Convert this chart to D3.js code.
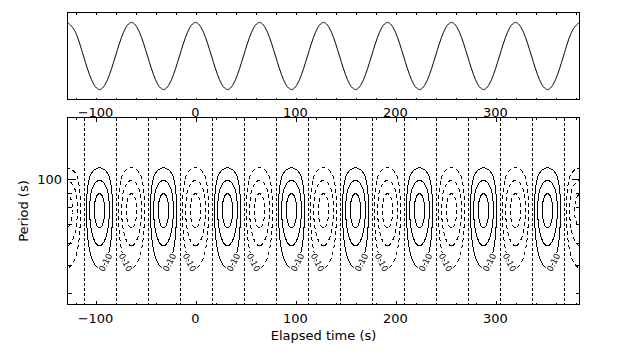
<!DOCTYPE html>
<html><head><meta charset="utf-8">
<script src="https://cdn.jsdelivr.net/npm/d3@7"></script>
<style>
html,body{margin:0;padding:0;background:#fff;}
svg{display:block;font-family:"DejaVu Sans",sans-serif;}
</style></head><body>
<svg id="chart" width="634" height="360"></svg>
<script>
// ---------------- data ----------------
const timeRange = [-128, 384];
const signalStart = -128;
const signalStep = 8;
const signalValues = [
  1, 0.707, 0, -0.707, -1, -0.707, 0, 0.707,
  1, 0.707, 0, -0.707, -1, -0.707, 0, 0.707,
  1, 0.707, 0, -0.707, -1, -0.707, 0, 0.707,
  1, 0.707, 0, -0.707, -1, -0.707, 0, 0.707,
  1, 0.707, 0, -0.707, -1, -0.707, 0, 0.707,
  1, 0.707, 0, -0.707, -1, -0.707, 0, 0.707,
  1, 0.707, 0, -0.707, -1, -0.707, 0, 0.707,
  1, 0.707, 0, -0.707, -1, -0.707, 0, 0.707,
  1
];
const signalRange = [-1.3, 1.3];
const periodRange = [36.5, 164.8];
const profilePeriods = [30, 36.5, 40, 45, 50, 55, 60, 65, 70, 78, 85, 90, 100, 110, 120, 140, 165, 180];
const profileAmps    = [0.01, 0.027, 0.042, 0.070, 0.110, 0.160, 0.217, 0.273, 0.319, 0.350, 0.329, 0.293, 0.193, 0.099, 0.040, 0.003, 0, 0];
const contourLevels = [0.1, 0.2, 0.3];
const labelLevel = 0.1;
const zeroTimes = [-112, -80, -48, -16, 16, 48, 80, 112, 144, 176, 208, 240, 272, 304, 336, 368];
const xTicks = [-100, 0, 100, 200, 300];
const xMinorTicks = d3.range(-120, 385, 20).filter(v => v % 100 !== 0);
const yTicks = [100];
const yMinorTicks = [40, 50, 60, 70, 80, 90];
const xTitle = "Elapsed time (s)";
const yTitle = "Period (s)";

// ---------------- layout ----------------
const svg = d3.select("#chart");
const L = 67.5, R = 579.5;
const topT = 12.5, topB = 99.5;
const botT = 117.5, botB = 304.5;

const x = d3.scaleLinear().domain(timeRange).range([L, R]);
const yS = d3.scaleLinear().domain(signalRange).range([topB, topT]);
const yP = d3.scaleLog().domain(periodRange).range([botB, botT]);

const fmt = d => (d < 0 ? "\u2212" + Math.abs(d) : String(d));

// ---------------- interpolators ----------------
function sigAt(t) {
  const v = signalValues, n = v.length;
  const u = (t - signalStart) / signalStep;
  let i = Math.floor(u);
  if (i < 0) i = 0;
  if (i > n - 2) i = n - 2;
  const f = u - i;
  const p0 = v[Math.max(i - 1, 0)], p1 = v[i], p2 = v[i + 1], p3 = v[Math.min(i + 2, n - 1)];
  return 0.5 * ((2 * p1) + (-p0 + p2) * f + (2 * p0 - 5 * p1 + 4 * p2 - p3) * f * f + (-p0 + 3 * p1 - 3 * p2 + p3) * f * f * f);
}
function monotone(xs, ys) {
  const n = xs.length, d = [], m = new Array(n);
  for (let k = 0; k < n - 1; k++) d.push((ys[k + 1] - ys[k]) / (xs[k + 1] - xs[k]));
  m[0] = d[0]; m[n - 1] = d[n - 2];
  for (let k = 1; k < n - 1; k++) m[k] = (d[k - 1] * d[k] <= 0) ? 0 : (d[k - 1] + d[k]) / 2;
  for (let k = 0; k < n - 1; k++) {
    if (d[k] === 0) { m[k] = 0; m[k + 1] = 0; continue; }
    const a = m[k] / d[k], b = m[k + 1] / d[k], s = a * a + b * b;
    if (s > 9) { const tau = 3 / Math.sqrt(s); m[k] = tau * a * d[k]; m[k + 1] = tau * b * d[k]; }
  }
  return function (xv) {
    let k = 0;
    while (k < n - 2 && xv > xs[k + 1]) k++;
    const h = xs[k + 1] - xs[k], t = Math.max(0, Math.min(1, (xv - xs[k]) / h));
    const t2 = t * t, t3 = t2 * t;
    return (2 * t3 - 3 * t2 + 1) * ys[k] + (t3 - 2 * t2 + t) * h * m[k] + (-2 * t3 + 3 * t2) * ys[k + 1] + (t3 - t2) * h * m[k + 1];
  };
}
const ampAt = (() => {
  const f = monotone(profilePeriods.map(Math.log10), profileAmps);
  return p => Math.max(0, f(Math.log10(p)));
})();

// ---------------- field ----------------
const nx = Math.round(R - L) + 1, ny = Math.round(botB - botT) + 1;
const colSig = d3.range(nx).map(i => sigAt(x.invert(L + i)));
const rowAmp = d3.range(ny).map(j => ampAt(yP.invert(botT + j)));
const pos = new Float64Array(nx * ny), neg = new Float64Array(nx * ny);
for (let j = 0; j < ny; j++) for (let i = 0; i < nx; i++) {
  const v = -rowAmp[j] * colSig[i];
  pos[j * nx + i] = v; neg[j * nx + i] = -v;
}
const contourGen = d3.contours().size([nx, ny]).thresholds(contourLevels);
const posC = contourGen(pos), negC = contourGen(neg);
const proj = d3.geoTransform({ point(px, py) { this.stream.point(L + px - 0.5, botT + py - 0.5); } });
const path = d3.geoPath(proj);

// ---------------- bottom panel ----------------
svg.append("defs").append("clipPath").attr("id", "clipB")
  .append("rect").attr("x", L).attr("y", botT).attr("width", R - L).attr("height", botB - botT);

const gB = svg.append("g").attr("clip-path", "url(#clipB)");
gB.selectAll("line.zero").data(zeroTimes).join("line")
  .attr("x1", d => Math.round(x(d)) + 0.5).attr("x2", d => Math.round(x(d)) + 0.5)
  .attr("y1", botT).attr("y2", botB)
  .attr("stroke", "#000").attr("stroke-width", 1).attr("stroke-dasharray", "3,2")
  .attr("shape-rendering", "crispEdges");

gB.selectAll("path.pos").data(posC).join("path")
  .attr("d", path).attr("fill", "none").attr("stroke", "#000").attr("stroke-width", 1)
  .attr("shape-rendering", "crispEdges");
gB.selectAll("path.neg").data(negC).join("path")
  .attr("d", path).attr("fill", "none").attr("stroke", "#000").attr("stroke-width", 1)
  .attr("stroke-dasharray", "4,3").attr("shape-rendering", "crispEdges");

// contour labels
function labelsFor(contour, side) {
  const out = [];
  contour.coordinates.forEach(poly => {
    const ring = poly[0].map(([a, b]) => [L + a - 0.5, botT + b - 0.5]);
    const xs = ring.map(p => p[0]), ys = ring.map(p => p[1]);
    const minX = d3.min(xs), maxX = d3.max(xs), minY = d3.min(ys), maxY = d3.max(ys);
    if (minX < L + 3 || maxX > R - 3) return;
    const xc = (minX + maxX) / 2, yc = (minY + maxY) / 2, tx = xc + side * 6;
    let best = -1, bd = Infinity;
    ring.forEach((p, k) => {
      if (p[1] <= yc) return;
      if ((p[0] - xc) * side <= 0) return;
      const dd = Math.abs(p[0] - tx);
      if (dd < bd) { bd = dd; best = k; }
    });
    if (best < 0) return;
    const n = ring.length;
    const a = ring[(best - 5 + n) % n], b = ring[(best + 5) % n];
    let ang = Math.atan2(b[1] - a[1], b[0] - a[0]) * 180 / Math.PI;
    if (ang > 90) ang -= 180;
    if (ang < -90) ang += 180;
    out.push({ x: ring[best][0], y: ring[best][1], a: ang });
  });
  return out;
}
const labPos = labelsFor(posC[contourLevels.indexOf(labelLevel)], 1)
  .concat(labelsFor(negC[contourLevels.indexOf(labelLevel)], -1));
gB.selectAll("text.lab").data(labPos).join("text")
  .attr("transform", d => `translate(${d.x},${d.y}) rotate(${d.a})`)
  .attr("text-anchor", "middle").attr("dy", "0.35em")
  .attr("font-size", "8.5px").attr("fill", "#000")
  .attr("stroke", "#fff").attr("stroke-width", 2.5).attr("paint-order", "stroke")
  .text(d3.format(".2f")(labelLevel));

// ---------------- top panel ----------------
const sigData = signalValues.map((v, i) => ({ t: signalStart + i * signalStep, v }));
svg.append("path").datum(sigData)
  .attr("d", d3.line().x(d => x(d.t)).y(d => yS(d.v)).curve(d3.curveNatural))
  .attr("fill", "none").attr("stroke", "#000").attr("stroke-width", 1);

// ---------------- frames & ticks ----------------
const ce = "crispEdges";
[[topT, topB], [botT, botB]].forEach(([t, b]) => {
  svg.append("rect").attr("x", L).attr("y", t).attr("width", R - L).attr("height", b - t)
    .attr("fill", "none").attr("stroke", "#000").attr("stroke-width", 1).attr("shape-rendering", ce);
});
function xTickLines(t, b, major, minor) {
  const all = xTicks.map(v => ({ v, len: major })).concat(xMinorTicks.map(v => ({ v, len: minor })));
  const g = svg.append("g").attr("stroke", "#000").attr("shape-rendering", ce);
  g.selectAll("line.b").data(all).join("line")
    .attr("x1", d => Math.round(x(d.v)) + 0.5).attr("x2", d => Math.round(x(d.v)) + 0.5)
    .attr("y1", b).attr("y2", d => b - d.len);
  g.selectAll("line.t").data(all).join("line")
    .attr("x1", d => Math.round(x(d.v)) + 0.5).attr("x2", d => Math.round(x(d.v)) + 0.5)
    .attr("y1", t).attr("y2", d => t + d.len);
}
xTickLines(topT, topB, 2, 2);
xTickLines(botT, botB, 4, 2);

const yAll = yTicks.map(v => ({ v, len: 8 })).concat(yMinorTicks.map(v => ({ v, len: 4 })));
const gy = svg.append("g").attr("stroke", "#000").attr("shape-rendering", ce);
gy.selectAll("line.l").data(yAll).join("line")
  .attr("y1", d => Math.round(yP(d.v)) + 0.5).attr("y2", d => Math.round(yP(d.v)) + 0.5)
  .attr("x1", L).attr("x2", d => L + d.len);
gy.selectAll("line.r").data(yAll).join("line")
  .attr("y1", d => Math.round(yP(d.v)) + 0.5).attr("y2", d => Math.round(yP(d.v)) + 0.5)
  .attr("x1", R).attr("x2", d => R - d.len);

// tick labels
const fs = "13px";
svg.selectAll("text.xt1").data(xTicks).join("text")
  .attr("x", d => x(d)).attr("y", 116.5).attr("text-anchor", "middle")
  .attr("font-size", fs).text(fmt);
svg.selectAll("text.xt2").data(xTicks).join("text")
  .attr("x", d => x(d)).attr("y", 322.8).attr("text-anchor", "middle")
  .attr("font-size", fs).text(fmt);
svg.selectAll("text.yt").data(yTicks).join("text")
  .attr("x", 62).attr("y", d => yP(d) + 4.7).attr("text-anchor", "end")
  .attr("font-size", fs).text(fmt);

// titles
svg.append("text").attr("x", (L + R) / 2).attr("y", 339.5).attr("text-anchor", "middle")
  .attr("font-size", fs).text(xTitle);
svg.append("text").attr("transform", `translate(28,${(botT + botB) / 2}) rotate(-90)`)
  .attr("text-anchor", "middle").attr("font-size", fs).text(yTitle);
</script>
</body></html>
